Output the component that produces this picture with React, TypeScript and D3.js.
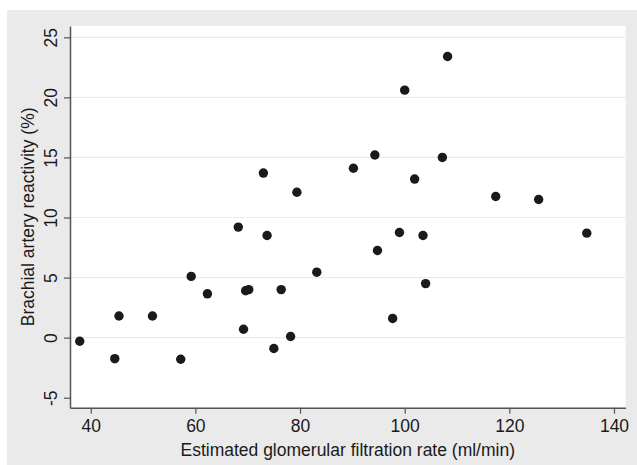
import React, { useRef, useEffect } from "react";
import * as d3 from "d3";

// eGFR (ml/min) and brachial artery reactivity (%)
const egfr = [
  73.0, 79.4, 68.2, 73.7, 108.2, 100.0, 90.2, 94.3, 107.2, 101.9, 117.4,
  125.6, 99.0, 103.5, 134.8, 59.2, 62.3, 69.6, 70.2, 76.4, 83.2, 45.4, 51.8,
  37.9, 44.6, 57.2, 69.2, 75.0, 78.2, 94.8, 104.0, 97.7,
];
const reactivity = [
  13.7, 12.1, 9.2, 8.5, 23.4, 20.6, 14.1, 15.2, 15.0, 13.2, 11.75, 11.5, 8.75,
  8.5, 8.7, 5.1, 3.65, 3.9, 4.0, 4.0, 5.45, 1.8, 1.8, -0.3, -1.75, -1.8, 0.7,
  -0.9, 0.1, 7.25, 4.5, 1.6,
];
const xTicks = [40, 60, 80, 100, 120, 140];
const yTicks = [-5, 0, 5, 10, 15, 20, 25];

const W = 637;
const H = 465;

const App = () => {
  const ref = useRef<SVGSVGElement>(null);

  useEffect(() => {
    const svg = d3.select(ref.current);
    svg.selectAll("*").remove();

    const left = 70,
      right = 625.5,
      top = 26,
      bottom = 407.7;

    const x = d3.scaleLinear().domain([36.04, 142.2]).range([left, right]);
    const y = d3.scaleLinear().domain([-5.83, 25.94]).range([bottom, top]);

    svg.append("rect").attr("width", W).attr("height", H).attr("fill", "#fff");
    svg
      .append("rect")
      .attr("x", 7)
      .attr("y", 10)
      .attr("width", W - 7)
      .attr("height", H - 10)
      .attr("fill", "#eaeaea");
    svg
      .append("rect")
      .attr("x", left)
      .attr("y", top)
      .attr("width", right - left)
      .attr("height", bottom - top)
      .attr("fill", "#fff");

    // gridlines
    svg
      .append("g")
      .selectAll("line")
      .data(yTicks.filter((t) => t >= 0))
      .enter()
      .append("line")
      .attr("x1", left)
      .attr("x2", right)
      .attr("y1", (d) => y(d))
      .attr("y2", (d) => y(d))
      .attr("stroke", "#eaeaea")
      .attr("stroke-width", 1.2);

    const font = "Liberation Sans, Arial, sans-serif";
    const fs = "17.5px";

    // x axis
    const gx = svg
      .append("g")
      .attr("transform", `translate(0,${bottom})`)
      .call(
        d3
          .axisBottom(x)
          .tickValues(xTicks)
          .tickSize(6)
          .tickPadding(6)
          .tickSizeOuter(0)
      );
    gx.select(".domain").attr("stroke", "#555").attr("stroke-width", 1.5);
    gx.selectAll(".tick line").attr("stroke", "#555").attr("stroke-width", 1.2);
    gx.selectAll(".tick text")
      .attr("fill", "#1a1a1a")
      .style("font-family", font)
      .style("font-size", fs);

    // y axis
    const gy = svg
      .append("g")
      .attr("transform", `translate(${left},0)`)
      .call(
        d3
          .axisLeft(y)
          .tickValues(yTicks)
          .tickFormat((d) => String(d))
          .tickSize(6)
          .tickSizeOuter(0)
      );
    gy.select(".domain").attr("stroke", "#555").attr("stroke-width", 1.5);
    gy.selectAll(".tick line").attr("stroke", "#555").attr("stroke-width", 1.2);
    gy.selectAll(".tick text")
      .attr("fill", "#1a1a1a")
      .attr("x", 0)
      .attr("dy", 0)
      .attr("transform", "translate(-13.5,0) rotate(-90)")
      .attr("text-anchor", "middle")
      .style("font-family", font)
      .style("font-size", fs);

    // points
    svg
      .append("g")
      .selectAll("circle")
      .data(egfr.map((v, i) => [v, reactivity[i]]))
      .enter()
      .append("circle")
      .attr("cx", (d) => x(d[0]))
      .attr("cy", (d) => y(d[1]))
      .attr("r", 4.7)
      .attr("fill", "#1a1a1a");

    // titles
    svg
      .append("text")
      .attr("x", (left + right) / 2)
      .attr("y", 456)
      .attr("text-anchor", "middle")
      .attr("fill", "#1a1a1a")
      .style("font-family", font)
      .style("font-size", fs)
      .text("Estimated glomerular filtration rate (ml/min)");

    svg
      .append("text")
      .attr("transform", `translate(33.5,${(top + bottom) / 2}) rotate(-90)`)
      .attr("text-anchor", "middle")
      .attr("fill", "#1a1a1a")
      .style("font-family", font)
      .style("font-size", fs)
      .text("Brachial artery reactivity (%)");
  }, []);

  return (
    <svg
      ref={ref}
      width={W}
      height={H}
      style={{ position: "absolute", left: 0, top: 0 }}
    />
  );
};

export default App;
